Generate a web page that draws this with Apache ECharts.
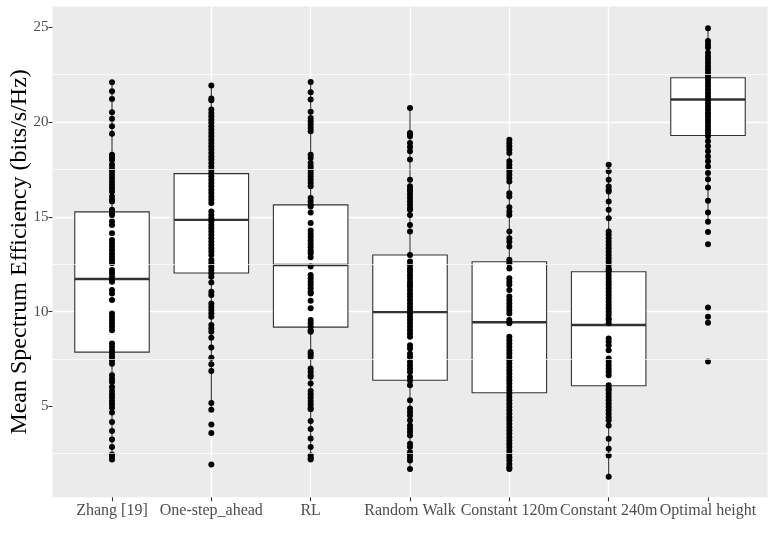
<!DOCTYPE html>
<html>
<head>
<meta charset="utf-8">
<script src="https://cdn.jsdelivr.net/npm/echarts@6/dist/echarts.min.js"></script>
<style>
html,body{margin:0;padding:0;background:#fff;}
#chart{width:774px;height:545px;}
</style>
</head>
<body>
<div id="chart"></div>
<script>
// ---------- data ----------
var categories = ['Zhang [19]', 'One-step_ahead', 'RL', 'Random Walk', 'Constant 120m', 'Constant 240m', 'Optimal height'];

// box statistics: [lower whisker, Q1, median, Q3, upper whisker]
var boxZhang   = [2.2, 7.86, 11.72, 15.26, 22.1];
var boxOneStep = [4.82, 12.04, 14.84, 17.28, 21.93];
var boxRL      = [2.2, 9.18, 12.46, 15.63, 22.12];
var boxRandom  = [1.7, 6.38, 9.97, 12.99, 20.75];
var boxC120    = [1.7, 5.72, 9.44, 12.63, 19.07];
var boxC240    = [1.28, 6.09, 9.29, 12.1, 17.75];
var boxOptimal = [14.74, 19.29, 21.19, 22.34, 24.95];

// points
var ptsZhang = [22.1, 21.63, 21.22, 20.52, 20.17, 19.78, 19.39, 18.28, 18.15, 18.0, 17.75, 17.57, 17.4, 17.22, 17.05, 16.87, 16.69, 16.52, 16.34,
  16.08, 15.9, 15.81, 15.37, 15.22, 15.1, 14.75, 14.57, 14.14, 13.78, 13.6, 13.43, 13.25, 13.07, 12.9, 12.72, 12.55, 12.2, 12.02, 11.84, 11.67, 11.58,
  11.14, 10.96, 10.61, 9.9, 9.73, 9.55, 9.38, 9.2, 9.02, 8.31, 8.14, 7.96, 7.78, 7.6, 7.43, 7.25, 6.64, 6.46, 6.29, 6.02, 5.81, 5.64, 5.46, 5.28, 5.11, 4.93,
  4.67, 4.17, 3.7, 3.25, 2.86, 2.46, 2.33, 2.2];
var ptsOneStep = [21.93, 21.25, 21.15, 20.66, 20.48, 20.31, 20.13, 19.96, 19.78, 19.6, 19.43, 19.25, 19.07, 18.9, 18.72, 18.55, 18.37, 18.19, 18.02,
  17.84, 17.66, 17.49, 17.31, 17.14, 16.96, 16.78, 16.61, 16.43, 16.26, 16.08, 15.9, 15.73, 15.28, 15.1, 14.93, 14.75, 14.57, 14.4, 14.22, 14.05, 13.87,
  13.69, 13.52, 13.34, 13.17, 12.99, 12.72, 12.55, 12.37, 12.2, 12.02, 11.84, 11.53, 11.05, 10.87, 10.43, 10.26, 10.08, 9.9, 9.73, 9.29, 9.11, 8.93,
  8.62, 8.11, 7.56, 7.22, 6.87, 5.18, 4.82, 4.04, 3.59, 1.93];
var ptsRL = [22.12, 21.58, 21.19, 20.54, 20.22, 20.04, 19.87, 19.69, 19.52, 18.28, 18.1, 17.84, 17.66, 17.49, 17.31, 17.14, 16.96, 16.78, 16.61,
  15.99, 15.81, 15.64, 15.55, 15.23, 14.67, 14.28, 14.1, 13.93, 13.75, 13.57, 13.4, 13.22, 13.08, 12.87, 12.38, 11.93, 11.76, 11.58, 11.41, 11.23,
  11.05, 10.96, 10.57, 10.17, 9.55, 9.38, 9.2, 9.02, 8.93, 7.87, 7.75, 7.61, 7.0, 6.82, 6.64, 6.56, 6.2, 5.81, 5.64, 5.46, 5.28, 5.11, 4.93, 4.84,
  4.22, 3.81, 3.3, 2.86, 2.4, 2.28, 2.2];
var ptsRandom = [20.75, 19.43, 19.34, 19.25, 18.9, 18.69, 18.46, 18.02, 16.96, 16.61, 16.47, 16.34, 16.17, 15.99, 15.81, 15.64, 15.46, 15.37,
  15.1, 14.57, 14.22, 12.99, 12.64, 12.46, 12.28, 12.11, 11.93, 11.76, 11.58, 11.41, 11.32, 11.14, 10.96, 10.79, 10.61, 10.43, 10.26, 10.08, 9.9,
  9.73, 9.55, 9.38, 9.2, 9.02, 8.85, 8.67, 8.23, 8.05, 7.78, 7.6, 7.34, 7.16, 6.99, 6.81, 6.55, 6.37, 6.11, 5.32, 4.88, 4.7, 4.52, 4.26, 3.99, 3.82,
  3.64, 3.46, 3.02, 2.85, 2.58, 2.49, 2.32, 2.14, 1.7];
var ptsC120 = [19.07, 18.9, 18.72, 18.55, 18.37, 17.93, 17.75, 17.58, 17.4, 17.22, 17.05, 16.87, 16.25, 16.08, 15.51, 15.28, 15.1, 14.22, 13.87,
  13.69, 13.43, 12.73, 12.55, 12.28, 11.76, 11.58, 11.41, 11.14, 10.79, 10.61, 10.43, 10.26, 10.08, 9.9, 9.55, 9.38, 8.67, 8.49, 8.32, 8.14, 7.96,
  7.79, 7.61, 7.43, 7.26, 7.08, 6.91, 6.73, 6.55, 6.38, 6.2, 6.02, 5.85, 5.67, 5.49, 5.32, 5.14, 4.97, 4.79, 4.61, 4.43, 4.26, 4.08, 3.9, 3.73, 3.55,
  3.37, 3.2, 3.02, 2.85, 2.67, 2.49, 2.32, 2.14, 1.96, 1.79, 1.7];
var ptsC240 = [17.75, 17.4, 16.96, 16.6, 16.43, 16.34, 15.81, 15.37, 14.93, 14.22, 14.05, 13.87, 13.69, 13.52, 13.34, 13.17, 12.99, 12.81, 12.64,
  12.46, 12.28, 12.2, 12.11, 11.93, 11.76, 11.58, 11.41, 11.23, 11.05, 10.88, 10.7, 10.52, 10.35, 10.17, 9.99, 9.82, 9.64, 9.55, 9.38, 8.58, 8.41,
  8.23, 7.96, 7.52, 7.35, 7.17, 7.0, 6.82, 6.64, 6.11, 5.94, 5.85, 5.67, 5.49, 5.32, 5.14, 4.97, 4.79, 4.61, 4.43, 4.26, 3.99, 3.29, 2.76, 2.41, 1.28];
var ptsOptimal = [24.95, 24.28, 24.1, 23.93, 23.66, 23.48, 23.31, 23.13, 22.95, 22.78, 22.6, 22.43, 22.25, 22.07, 21.9, 21.72, 21.54, 21.37, 21.19,
  21.01, 20.84, 20.66, 20.48, 20.31, 20.13, 19.96, 19.78, 19.6, 19.43, 19.25, 18.99, 18.72, 18.46, 18.19, 17.93, 17.66, 17.31, 16.99, 16.55, 15.85,
  15.23, 14.74, 14.2, 13.55, 10.22, 9.73, 9.41, 7.36];

var yTicks = [5, 10, 15, 20, 25];
var yMinorBreaks = [2.5, 7.5, 12.5, 17.5, 22.5];

// ---------- build ----------
var boxes = [boxZhang, boxOneStep, boxRL, boxRandom, boxC120, boxC240, boxOptimal];
var points = [ptsZhang, ptsOneStep, ptsRL, ptsRandom, ptsC120, ptsC240, ptsOptimal];

var boxData = boxes.map(function (b, i) { return [i + 1].concat(b); });
var pointData = [];
points.forEach(function (arr, i) { arr.forEach(function (v) { pointData.push([i + 1, v]); }); });
var catIdx = categories.map(function (c, i) { return i + 1; });

var FONT = "'Liberation Serif', 'DejaVu Serif', serif";
var DARK = '#333333';

var chart = echarts.init(document.getElementById('chart'), null, { renderer: 'canvas' });
chart.setOption({
  animation: false,
  backgroundColor: '#FFFFFF',
  grid: {
    left: 52.4, right: 6.4, top: 6.5, bottom: 47.7,
    outerBoundsMode: 'none', containLabel: false,
    show: true, backgroundColor: '#EBEBEB', borderWidth: 0
  },
  xAxis: {
    type: 'value',
    min: 0.4, max: 7.6,
    minInterval: 1, maxInterval: 1,
    axisLine: { show: false },
    axisTick: { show: true, length: 4, lineStyle: { color: DARK, width: 1.1 }, customValues: catIdx },
    axisLabel: {
      show: true, customValues: catIdx,
      color: '#4D4D4D', fontFamily: FONT, fontSize: 16, margin: 5,
      formatter: function (v) { var k = Math.round(v); return (Math.abs(v - k) < 1e-6 && categories[k - 1]) ? categories[k - 1] : ''; }
    },
    splitLine: { show: true, showMinLine: false, showMaxLine: false, lineStyle: { color: '#FFFFFF', width: 1.4 } }
  },
  yAxis: {
    type: 'value',
    min: 0.2, max: 26.1,
    minInterval: 5, maxInterval: 5,
    name: 'Mean Spectrum Efficiency (bits/s/Hz)',
    nameLocation: 'middle', nameGap: 21, nameMoveOverlap: false,
    nameTextStyle: { color: '#000000', fontFamily: FONT, fontSize: 24 },
    axisLine: { show: false },
    axisTick: { show: true, length: 4, lineStyle: { color: DARK, width: 1.1 }, customValues: yTicks },
    axisLabel: {
      show: true, customValues: yTicks,
      color: '#4D4D4D', fontFamily: FONT, fontSize: 15, margin: 4,
      formatter: function (v) { return yTicks.indexOf(v) >= 0 ? String(v) : ''; }
    },
    splitLine: { show: true, showMinLine: false, showMaxLine: false, lineStyle: { color: '#FFFFFF', width: 1.4 } }
  },
  series: [
    {
      type: 'line', data: [], z: 1, silent: true,
      markLine: {
        silent: true, symbol: ['none', 'none'], label: { show: false },
        lineStyle: { color: '#FFFFFF', width: 0.7, type: 'solid' },
        emphasis: { disabled: true },
        data: yMinorBreaks.map(function (v) { return { yAxis: v }; })
      }
    },
    {
      type: 'custom', z: 3, silent: true,
      data: boxData,
      encode: { x: 0, y: [1, 2, 3, 4, 5] },
      renderItem: function (params, api) {
        var x = api.value(0);
        var pLo = api.coord([x, api.value(1)]);
        var pQ1 = api.coord([x, api.value(2)]);
        var pMed = api.coord([x, api.value(3)]);
        var pQ3 = api.coord([x, api.value(4)]);
        var pHi = api.coord([x, api.value(5)]);
        var half = api.size([1, 0])[0] * 0.75 / 2;
        var cx = pMed[0];
        var ls = { stroke: DARK, lineWidth: 1.1 };
        return {
          type: 'group',
          children: [
            { type: 'line', shape: { x1: cx, y1: pLo[1], x2: cx, y2: pQ1[1] }, style: ls },
            { type: 'line', shape: { x1: cx, y1: pQ3[1], x2: cx, y2: pHi[1] }, style: ls },
            { type: 'rect', shape: { x: cx - half, y: pQ3[1], width: half * 2, height: pQ1[1] - pQ3[1] },
              style: { fill: '#FFFFFF', stroke: DARK, lineWidth: 1.1 } },
            { type: 'line', shape: { x1: cx - half, y1: pMed[1], x2: cx + half, y2: pMed[1] },
              style: { stroke: DARK, lineWidth: 2.4 } }
          ]
        };
      }
    },
    {
      type: 'scatter', z: 4, silent: true,
      data: pointData,
      symbol: 'circle', symbolSize: 6,
      itemStyle: { color: '#000000', opacity: 1 }
    }
  ]
});
</script>
</body>
</html>
